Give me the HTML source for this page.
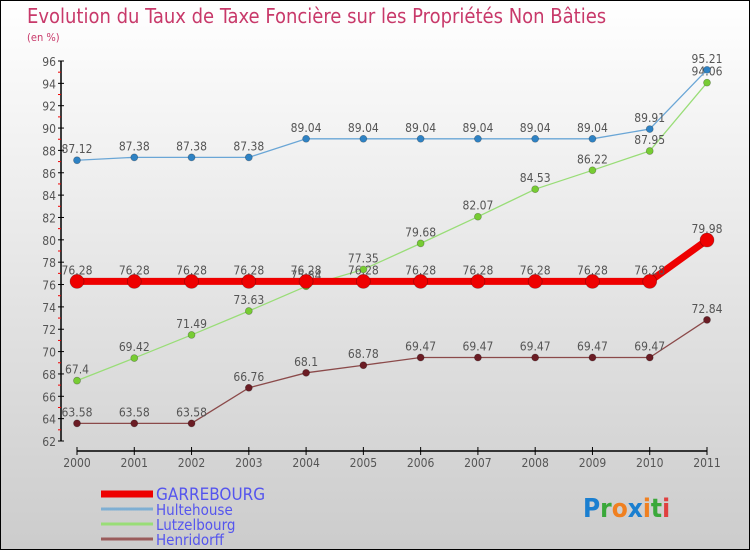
<!DOCTYPE html>
<html><head><meta charset="utf-8"><style>
body{margin:0}
#c{width:750px;height:550px;position:relative;box-sizing:border-box;border:1px solid #000;background:linear-gradient(#fff,#ccc);font-family:"DejaVu Sans Condensed","Liberation Sans",sans-serif;overflow:hidden}
svg text{font-family:"DejaVu Sans Condensed","Liberation Sans",sans-serif}
</style></head><body>
<div id="c">
<svg id="s" width="750" height="550">
<text x="26" y="22" font-size="20" fill="#c8396a">Evolution du Taux de Taxe Foncière sur les Propriétés Non Bâties</text>
<text x="26" y="40" font-size="11" fill="#c8396a">(en %)</text>
</svg>
</div>
<script>
const years=['2000','2001','2002','2003','2004','2005','2006','2007','2008','2009','2010','2011'];
const garrebourg=[76.28,76.28,76.28,76.28,76.28,76.28,76.28,76.28,76.28,76.28,76.28,79.98];
const hultehouse=[87.12,87.38,87.38,87.38,89.04,89.04,89.04,89.04,89.04,89.04,89.91,95.21];
const lutzelbourg=[67.4,69.42,71.49,73.63,75.84,77.35,79.68,82.07,84.53,86.22,87.95,94.06];
const henridorff=[63.58,63.58,63.58,66.76,68.1,68.78,69.47,69.47,69.47,69.47,69.47,72.84];
const yTicks=[62,64,66,68,70,72,74,76,78,80,82,84,86,88,90,92,94,96];
const NS='http://www.w3.org/2000/svg';
const s=document.getElementById('s');
const X=i=>76+i*(706-76)/11;
const Y=v=>440-(v-62)*(380/34);
function el(t,a,p){const e=document.createElementNS(NS,t);for(const k in a)e.setAttribute(k,a[k]);(p||s).appendChild(e);return e;}
let ya=el('line',{x1:60,y1:60,x2:60,y2:440,stroke:'#000','stroke-width':1.5});


yTicks.forEach(v=>{
 el('line',{x1:57,x2:63,y1:Y(v),y2:Y(v),stroke:'#000'});
 if(v<96){el('line',{x1:57,x2:60,y1:Y(v+1),y2:Y(v+1),stroke:'#e00'});}
 const t=el('text',{x:55,y:Y(v)+5,'font-size':12,'text-anchor':'end',fill:'#555'});
 t.textContent=v;
 
 
});
let xa=el('line',{x1:76,y1:450,x2:706,y2:450,stroke:'#000','stroke-width':1.5});


years.forEach((y,i)=>{
 el('line',{x1:X(i),x2:X(i),y1:446,y2:454,stroke:'#000'});
 const t=el('text',{x:X(i),y:466,'font-size':12,'text-anchor':'middle',fill:'#555'});
 t.textContent=y;
 
 
});
function series(d,col,w,r,name,dot){
 const g=el('g',{});
 
 
 el('polyline',{points:d.map((v,i)=>X(i)+','+Y(v)).join(' '),fill:'none',stroke:col,'stroke-width':w},g);
 d.forEach((v,i)=>{
  const c=el('circle',{cx:X(i),cy:Y(v),r:r,fill:dot,stroke:'rgba(0,0,0,0.3)','stroke-width':0.7},g);
  
  
  const t=el('text',{x:X(i),y:Y(v)-7,'font-size':12,'text-anchor':'middle',fill:'#555'},g);
  t.textContent=v;
  
  
 });
}
series(henridorff,'#8b4a4a',1.3,3.5,'henridorff','#6b1c24');
series(lutzelbourg,'#99dd77',1.3,3.5,'lutzelbourg','#77cc33');
series(hultehouse,'#6aa6d6',1.3,3.5,'hultehouse','#2e82c4');
series(garrebourg,'#ee0000',7,7,'garrebourg','#ee0000');
const legend=[['GARREBOURG','#ee0000',7,15],['Hultehouse','#7fafd3',3,13],['Lutzelbourg','#99dd77',3,13],['Henridorff','#9a5c5c',3,13]];
const ly=[493,508,523,538];
legend.forEach((l,i)=>{
 const g=el('g',{});
 
 
 el('line',{x1:100,x2:152,y1:ly[i],y2:ly[i],stroke:l[1],'stroke-width':l[2]},g);
 const t=el('text',{x:155,y:ly[i]+6,'font-size':l[3]+2,fill:'#5555ee'},g);
 t.textContent=l[0];
});
const p=el('text',{x:582,y:516,'font-size':26,'font-weight':'bold'});


[['P','#1a7fd0'],['r','#3aa83a'],['o','#f08020'],['x','#1a7fd0'],['i','#f08020'],['t','#3aa83a'],['i','#e04040']].forEach(a=>{const ts=el('tspan',{fill:a[1]},p);ts.textContent=a[0];});
</script>
</body></html>
